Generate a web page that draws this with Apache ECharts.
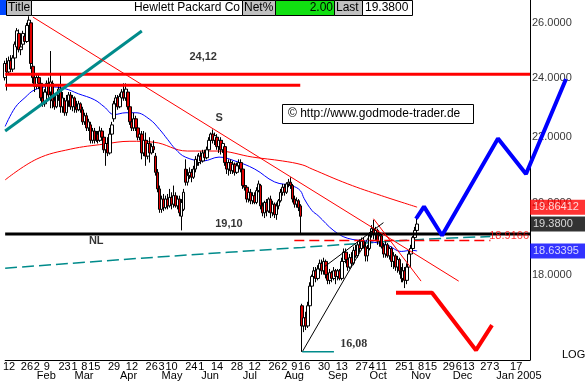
<!DOCTYPE html>
<html><head><meta charset="utf-8">
<script src="https://cdn.jsdelivr.net/npm/echarts@6/dist/echarts.min.js"></script>
<style>html,body{margin:0;padding:0;background:#fff}#chart{width:585px;height:382px}</style>
</head><body><div id="chart"></div>
<script>
// ---------- calendar ----------
const firstDay = '2004-01-08';
const categoryCount = 266;       // visible trading days on the axis
const projectionCount = 293;     // trading days reaching the right edge of the picture
const holidays = ['2004-01-19','2004-02-16','2004-04-09','2004-05-31','2004-06-11','2004-07-05','2004-09-06','2004-11-25','2004-12-24'];
const dayLabels = ['2004-01-12','2004-01-26','2004-02-02','2004-02-09','2004-02-23','2004-03-01','2004-03-08','2004-03-15','2004-03-29','2004-04-12','2004-04-26','2004-05-03','2004-05-10','2004-05-24','2004-06-01','2004-06-14','2004-06-28','2004-07-12','2004-07-26','2004-08-02','2004-08-09','2004-08-16','2004-08-30','2004-09-13','2004-09-27','2004-10-04','2004-10-11','2004-10-25','2004-11-01','2004-11-08','2004-11-15','2004-11-29','2004-12-06','2004-12-13','2004-12-27','2005-01-03','2005-01-17'];
const monthLabels = {'2004-02-02':'Feb','2004-03-01':'Mar','2004-04-01':'Apr','2004-05-03':'May','2004-06-01':'Jun','2004-07-01':'Jul','2004-08-02':'Aug','2004-09-01':'Sep','2004-10-01':'Oct','2004-11-01':'Nov','2004-12-01':'Dec','2005-01-03':'Jan 2005'};
const yTickValues = [26, 24, 22, 20, 18];

// ---------- prices: [open, close, low, high] per trading day from 2004-01-08 ----------
const candles = [
[24.0,24.5,23.9,24.6],[24.5,24.2,23.55,24.7],[24.2,24.6,24.1,24.75],[24.6,24.3,24.2,24.8],[24.3,24.7,24.2,24.8],
[24.7,25.2,24.6,25.3],[25.1,25.7,25.0,25.8],[25.6,25.0,24.9,25.75],[25.0,25.1,24.8,25.3],[25.2,25.6,25.1,25.7],
[25.5,25.3,25.2,25.6],[25.3,25.9,25.25,26.0],[25.9,26.1,25.7,26.25],[26.0,24.5,24.3,26.1],[24.4,24.0,23.8,24.6],
[24.0,23.7,23.5,24.1],[23.7,24.0,23.6,24.1],[24.0,23.8,23.6,24.15],[23.8,23.3,23.2,23.9],[23.3,23.1,23.0,23.5],
[23.1,23.5,23.0,23.6],[23.5,23.8,23.4,23.9],[23.8,23.4,23.3,24.0],[23.5,23.85,22.95,24.95],[23.8,23.2,22.95,23.9],
[23.2,23.0,22.9,23.4],[23.0,23.4,22.95,23.5],[23.4,23.6,23.2,23.7],[23.6,23.0,22.8,24.1],[23.0,23.3,22.8,23.5],
[23.2,22.8,22.7,23.3],[22.8,23.2,22.7,23.4],[23.2,23.4,23.0,23.5],[23.4,23.0,22.9,23.5],[23.0,23.3,22.85,23.4],
[23.3,23.0,22.8,23.35],[23.0,22.9,22.8,23.2],[22.9,23.1,22.85,23.2],[23.1,22.9,22.8,23.15],[22.9,22.5,22.4,23.0],
[22.5,22.7,22.4,22.8],[22.7,22.3,22.2,22.8],[22.3,22.5,22.2,22.6],[22.4,21.9,21.8,22.5],[21.9,22.2,21.8,22.3],
[22.2,21.9,21.8,22.3],[21.9,22.1,21.85,22.2],[22.1,21.9,21.8,22.2],[21.9,22.2,21.85,22.35],[22.2,22.0,21.9,22.3],
[22.0,21.6,21.5,22.1],[21.6,21.8,21.1,22.0],[21.8,21.5,21.4,22.0],[21.5,22.1,21.45,22.3],[22.1,22.4,22.0,22.5],
[22.6,23.1,22.5,23.2],[23.1,23.3,22.95,23.4],[23.3,23.0,22.9,23.4],[23.0,23.35,22.95,23.45],[23.3,23.5,23.2,23.6],
[23.5,23.3,23.2,23.8],[23.3,23.6,23.2,23.8],[23.5,23.0,22.9,23.6],[23.0,22.5,22.4,23.1],[22.5,22.3,22.2,22.7],
[22.3,22.6,22.2,22.8],[22.6,22.3,22.2,22.7],[22.3,22.0,21.9,22.4],[22.0,22.1,21.9,22.2],[22.1,21.5,21.3,22.2],
[21.5,21.9,21.4,22.2],[21.9,21.4,21.1,22.15],[21.4,21.8,21.3,21.9],[21.8,21.5,21.2,22.0],[21.5,21.7,21.45,21.8],
[21.7,21.6,21.5,21.9],[21.4,20.9,20.8,21.5],[20.9,20.4,20.3,21.0],[20.4,19.8,19.7,20.5],[19.8,20.1,19.7,20.2],
[20.1,19.85,19.75,20.25],[19.85,20.1,19.8,20.2],[20.1,19.9,19.8,20.25],[19.9,20.15,19.85,20.4],[20.15,19.95,19.8,20.3],
[19.95,20.2,19.85,20.5],[20.2,19.9,19.85,20.3],[19.9,20.1,19.8,20.2],[20.1,19.7,19.6,20.2],[19.6,20.0,19.2,20.1],
[19.8,20.3,19.75,20.4],[21.0,20.6,20.5,21.3],[20.6,20.8,20.5,21.0],[20.8,20.9,20.7,21.05],[20.9,20.75,20.6,21.0],
[20.75,21.0,20.7,21.1],[21.0,21.3,20.9,21.4],[21.3,21.2,21.1,21.45],[21.2,21.4,21.1,21.5],[21.4,21.25,21.15,21.55],
[21.25,21.5,21.2,21.6],[21.5,21.35,21.25,21.6],[21.35,21.6,21.3,21.7],[21.6,21.9,21.5,22.0],[21.9,22.1,21.8,22.15],
[22.1,21.9,21.8,22.25],[21.9,22.05,21.75,22.15],[22.0,21.7,21.6,22.1],[21.7,21.9,21.5,22.0],[21.9,21.6,21.45,22.0],
[21.6,21.8,21.5,21.9],[21.7,21.2,21.1,21.75],[21.2,21.0,20.85,21.3],[21.0,21.2,20.8,21.3],[21.2,20.95,20.85,21.3],
[20.95,21.15,20.85,21.25],[21.15,20.9,20.8,21.2],[20.9,21.1,20.85,21.2],[21.1,21.2,21.0,21.3],[21.2,21.0,20.9,21.3],
[21.0,20.5,20.4,21.05],[20.5,20.45,20.35,20.6],[20.45,20.1,20.0,20.5],[20.1,20.3,20.0,20.35],[20.3,20.05,19.95,20.4],
[20.05,20.2,19.95,20.3],[20.2,20.0,19.95,20.3],[20.0,20.35,19.95,20.45],[20.35,20.55,20.3,20.65],[20.5,19.9,19.8,20.55],
[19.9,19.7,19.6,20.0],[19.7,20.0,19.55,20.05],[20.0,19.75,19.6,20.1],[19.75,20.1,19.7,20.15],[20.1,19.7,19.55,20.2],
[19.7,19.95,19.6,20.05],[19.95,19.65,19.55,20.0],[19.65,19.9,19.5,20.0],[19.9,20.05,19.8,20.1],[20.05,20.3,20.0,20.4],
[20.3,20.45,20.2,20.55],[20.45,20.3,20.2,20.55],[20.3,20.55,20.25,20.6],[20.55,20.6,20.45,20.7],[20.6,20.5,20.4,20.75],
[20.5,20.1,20.0,20.55],[20.1,19.95,19.85,20.2],[19.95,20.05,19.85,20.15],[20.05,19.85,19.75,20.1],[19.9,19.6,19.1,19.95],
[17.2,16.7,16.08,17.25],[16.7,16.9,16.55,17.0],[16.9,16.7,16.6,17.05],[16.7,17.2,16.65,17.3],[17.2,17.7,17.1,17.8],
[17.7,17.95,17.6,18.0],[17.95,18.1,17.8,18.2],[18.1,17.9,17.8,18.2],[17.9,18.15,17.85,18.25],[18.15,18.3,18.05,18.4],
[18.3,18.1,18.0,18.4],[18.1,18.35,18.0,18.45],[18.35,18.0,17.9,18.4],[18.0,17.85,17.75,18.1],[17.85,18.05,17.75,18.15],
[18.05,17.9,17.8,18.1],[17.9,18.1,17.85,18.2],[18.1,17.95,17.75,18.15],[17.95,18.1,17.85,18.15],[18.1,17.9,17.85,18.15],
[17.9,18.35,17.85,18.45],[18.35,18.6,18.3,18.7],[18.6,18.4,18.3,18.7],[18.4,18.2,18.1,18.5],[18.2,18.45,18.15,18.55],
[18.45,18.3,18.2,18.6],[18.3,18.65,18.25,18.75],[18.65,18.5,18.45,18.8],[18.5,18.8,18.45,18.9],[18.8,18.7,18.6,18.95],
[18.7,18.9,18.65,19.0],[18.9,18.75,18.7,19.0],[18.75,18.5,18.35,18.85],[18.5,18.7,18.35,18.8],[18.7,19.1,18.65,19.15],
[19.1,19.25,19.0,19.35],[19.25,19.1,18.95,19.5],[19.1,19.2,18.9,19.3],[19.2,18.9,18.8,19.25],[18.9,19.05,18.75,19.15],
[19.05,18.75,18.7,19.1],[18.75,18.55,18.45,18.85],[18.55,18.8,18.45,18.9],[18.8,18.5,18.45,18.85],[18.5,18.7,18.4,18.75],
[18.7,18.35,18.2,18.75],[18.35,18.5,18.15,18.6],[18.5,18.2,18.1,18.55],[18.2,18.4,18.05,18.5],[18.4,18.1,18.0,18.45],
[18.1,17.9,17.8,18.2],[17.9,18.1,17.8,18.3],[18.1,17.85,17.65,18.2],[17.85,18.2,17.75,18.3],[18.2,18.55,18.1,18.65],
[18.55,18.7,18.4,18.8],[18.7,19.0,18.65,19.05],[19.0,19.2,18.9,19.3],[19.2,19.38,19.1,19.55]
];

// ---------- indicator curves: [trading-day index, price] ----------
const blueAverage = [[0,22.35],[5,22.97],[10,23.31],[15,23.58],[22,23.68],[30,23.62],[37,23.44],[45,23.24],[50,23.0],[55,22.74],[61,22.8],[66,22.8],[73,22.58],[78,22.25],[82,21.93],[86,21.62],[91,21.37],[100,21.25],[108,21.37],[116,21.25],[126,21.0],[136,20.61],[145,20.49],[149,20.35],[151,20.11],[155,19.76],[158,19.62],[166,19.19],[173,18.98],[183,18.9],[193,18.79],[200,18.62],[205,18.65],[208,18.63395]];
const redAverage = [[0,20.67],[16,21.31],[33,21.62],[50,21.78],[63,21.87],[75,21.84],[92,21.56],[107,21.56],[125,21.37],[140,21.25],[150,21.13],[155,21.0],[173,20.55],[190,20.2],[208,19.86412]];
const tealDashed = [[0,18.17],[75,18.46],[150,18.73],[210,18.95],[245,19.03]];

// ---------- drawn lines ----------
const redTrend = [[14,26.22],[229,17.83]];
const redFan = [[186,19.53],[210,17.83]];
const tealTrend = [[0,22.2],[69,25.69]];
const wedgeLower = [[150,16.08],[186,19.25]];
const wedgeUpper = [[161,18.2],[191,19.42]];
const lowMark = [[150,16.08],[166,16.08]];
const resistanceTop = [[0,24.12],[265,24.12]];
const resistanceLow = [[0,23.73],[149,23.73]];
const neckline = [[0,19.10],[265,19.10]];
const dashedLevel = [[146,18.9166],[245,18.9166]];
const blueProjection = [[208,19.53],[212,19.88],[221,19.06],[249,21.96],[263,20.85],[283,23.95]];
const redProjection = [[198,17.53],[216,17.53],[238,16.12],[246,16.72]];
const markerValues = [19.86412, 19.38, 18.63395];
const annotations = [['24,12',100,24.73],['S',108,22.64],['19,10',113,19.39],['NL',46,18.92]];
const lowAnnotation = ['16,08',176,16.27];

// ---------- build ----------
function buildDates(count) {
  const out = []; const d = new Date(Date.UTC(2004, 0, 8));
  while (out.length < count) {
    const wd = d.getUTCDay(); const s = d.toISOString().slice(0, 10);
    if (wd !== 0 && wd !== 6 && holidays.indexOf(s) < 0) out.push(s);
    d.setUTCDate(d.getUTCDate() + 1);
  }
  return out;
}
const allDates = buildDates(projectionCount);
const dates = allDates.slice(0, categoryCount);
const daySet = new Set(dayLabels);
const lastIdx = categoryCount - 1;
const FONT = 'Liberation Sans, Arial, sans-serif';
const Y_MIN = 15.89, Y_MAX = 26.26;

function line(data, color, width, extra) {
  return Object.assign({ type: 'line', data: data, symbol: 'none', silent: true,
    lineStyle: { color: color, width: width }, z: 3 }, extra || {});
}

const chart = echarts.init(document.getElementById('chart'), null, { renderer: 'canvas' });
const boxColors = ['#ff0000', '#000000', '#0000ff'];

const option = {
  animation: false,
  backgroundColor: '#fff',
  textStyle: { fontFamily: FONT },
  grid: [
    { left: 0, right: 55, top: 16, bottom: 22, containLabel: false },
    { left: 0, right: 1, top: 16, bottom: 22, containLabel: false }
  ],
  xAxis: [
    { type: 'category', gridIndex: 0, data: dates, boundaryGap: false, position: 'bottom',
      axisLine: { show: true, lineStyle: { color: '#000', width: 1 } },
      axisTick: { show: false }, splitLine: { show: false },
      axisLabel: { interval: (i, v) => daySet.has(v), formatter: v => String(Number(v.slice(8, 10))),
        color: '#000', fontSize: 11, margin: 1, fontFamily: FONT } },
    { type: 'category', gridIndex: 0, data: dates, boundaryGap: false, position: 'bottom', offset: 0,
      axisLine: { show: false }, axisTick: { show: false }, splitLine: { show: false },
      axisLabel: { interval: (i, v) => !!monthLabels[v], formatter: v => monthLabels[v] || '',
        align: 'left', color: '#000', fontSize: 11, margin: 10, fontFamily: FONT } },
    { type: 'category', gridIndex: 1, data: allDates, boundaryGap: false, show: false }
  ],
  yAxis: [
    { type: 'log', gridIndex: 0, logBase: 10, min: Y_MIN, max: Y_MAX, position: 'right',
      axisLine: { show: true, lineStyle: { color: '#000', width: 1 } },
      axisTick: { show: false }, axisLabel: { show: false }, splitLine: { show: false } },
    { type: 'log', gridIndex: 1, logBase: 10, min: Y_MIN, max: Y_MAX, show: false, splitLine: { show: false } }
  ],
  series: [
    line(tealDashed, '#008b8b', 1.5, { lineStyle: { color: '#008b8b', width: 1.5, type: [12, 5] }, smooth: 0.3 }),
    line(redAverage, '#ff0000', 1, { smooth: 0.4 }),
    line(blueAverage, '#0000ff', 1, { smooth: 0.4 }),
    { type: 'candlestick', data: candles, barWidth: 3, z: 4,
      itemStyle: { color: '#ffffff', color0: '#e00000', borderColor: '#000', borderColor0: '#000', borderWidth: 1 } },
    line(resistanceTop, '#ff0000', 3, { z: 5 }),
    line(resistanceLow, '#ff0000', 3, { z: 5 }),
    line(neckline, '#000000', 3, { z: 5 }),
    line(dashedLevel, '#ff0000', 1.5, { lineStyle: { color: '#ff0000', width: 1.5, type: [10, 5] }, z: 5 }),
    line(tealTrend, '#008b8b', 3, { z: 5 }),
    line(redTrend, '#ff0000', 1, { z: 5 }),
    line(redFan, '#ff0000', 1, { z: 5 }),
    line(wedgeLower, '#000000', 1, { z: 5 }),
    line(wedgeUpper, '#000000', 1, { z: 5 }),
    line(lowMark, '#008b8b', 1.5, { z: 5 }),
    // y tick labels
    { type: 'scatter', symbolSize: 0, clip: false, silent: true, z: 6,
      data: yTickValues.map(v => [lastIdx, v]),
      label: { show: true, position: 'right', distance: 2, color: '#000', fontSize: 11, fontFamily: FONT,
        formatter: p => p.value[1].toFixed(4) } },
    // value boxes on the axis
    { type: 'scatter', symbolSize: 0, clip: false, silent: true, z: 9,
      data: markerValues.map((v, i) => ({ value: [lastIdx, v],
        label: { backgroundColor: boxColors[i] } })),
      label: { show: true, position: 'right', distance: 0, color: '#fff', fontSize: 11, fontFamily: FONT,
        padding: [2, 3, 1, 3], width: 49, lineHeight: 12, align: 'left',
        formatter: p => String(p.value[1]) === '19.38' ? '19.3800' : String(p.value[1]) } },
    // red level text
    { type: 'scatter', symbolSize: 0, clip: false, silent: true, z: 9,
      data: [[lastIdx, dashedLevel[0][1]]],
      label: { show: true, position: 'left', distance: 1, offset: [0, -5], color: '#ff0000', fontSize: 11, fontFamily: FONT,
        formatter: p => String(p.value[1]) } },
    // annotations
    { type: 'scatter', symbolSize: 0, clip: false, silent: true, z: 9,
      data: annotations.map(a => ({ value: [a[1], a[2]], name: a[0] })),
      label: { show: true, position: 'inside', color: '#000', fontSize: 11, fontWeight: 'bold', fontFamily: FONT,
        formatter: p => p.name } },
    { type: 'scatter', symbolSize: 0, clip: false, silent: true, z: 9,
      data: [{ value: [lowAnnotation[1], lowAnnotation[2]], name: lowAnnotation[0] }],
      label: { show: true, position: 'inside', color: '#000', fontSize: 12, fontWeight: 'bold',
        fontFamily: 'Liberation Serif, Times New Roman, serif', formatter: p => p.name } },
    // projections (drawn on the wide grid so they can run past the price axis)
    line(blueProjection, '#0000ff', 4, { xAxisIndex: 2, yAxisIndex: 1, clip: false, z: 12 }),
    line(redProjection, '#ff0000', 4, { xAxisIndex: 2, yAxisIndex: 1, clip: false, z: 12 })
  ],
  graphic: [
    { type: 'line', shape: { x1: 530.5, y1: 0, x2: 530.5, y2: 16 }, style: { stroke: '#000', lineWidth: 1 } },
    { type: 'rect', shape: { x: 0, y: 0, width: 6, height: 15 }, style: { fill: '#0048ff' } },
    { type: 'rect', shape: { x: 6.5, y: 0.5, width: 25, height: 15 }, style: { fill: '#c0c0c0', stroke: '#000', lineWidth: 1 } },
    { type: 'rect', shape: { x: 31.5, y: 0.5, width: 211, height: 15 }, style: { fill: '#fff', stroke: '#000', lineWidth: 1 } },
    { type: 'rect', shape: { x: 242.5, y: 0.5, width: 33, height: 15 }, style: { fill: '#c0c0c0', stroke: '#000', lineWidth: 1 } },
    { type: 'rect', shape: { x: 275.5, y: 0.5, width: 59, height: 15 }, style: { fill: '#11e011', stroke: '#000', lineWidth: 1 } },
    { type: 'rect', shape: { x: 334.5, y: 0.5, width: 28, height: 15 }, style: { fill: '#c0c0c0', stroke: '#000', lineWidth: 1 } },
    { type: 'rect', shape: { x: 362.5, y: 0.5, width: 50, height: 15 }, style: { fill: '#fff', stroke: '#000', lineWidth: 1 } },
    { type: 'text', x: 8, y: 8, style: { text: 'Title', fill: '#000', font: '12px ' + FONT, textVerticalAlign: 'middle' } },
    { type: 'text', x: 240, y: 8, style: { text: 'Hewlett Packard Co', fill: '#000', font: '12px ' + FONT, textAlign: 'right', textVerticalAlign: 'middle' } },
    { type: 'text', x: 244, y: 8, style: { text: 'Net%', fill: '#000', font: '12px ' + FONT, textVerticalAlign: 'middle' } },
    { type: 'text', x: 333, y: 8, style: { text: '2.00', fill: '#000', font: '12px ' + FONT, textAlign: 'right', textVerticalAlign: 'middle' } },
    { type: 'text', x: 336, y: 8, style: { text: 'Last', fill: '#000', font: '12px ' + FONT, textVerticalAlign: 'middle' } },
    { type: 'text', x: 365, y: 8, style: { text: '19.3800', fill: '#000', font: '12px ' + FONT, textVerticalAlign: 'middle' } },
    { type: 'rect', shape: { x: 282.5, y: 104.5, width: 191, height: 19 }, style: { fill: '#fff', stroke: '#000', lineWidth: 1 }, z: 20 },
    { type: 'text', x: 288, y: 114, z: 21, style: { text: '\u00a9 http://www.godmode-trader.de', fill: '#000', font: '12px ' + FONT, textVerticalAlign: 'middle' } },
    { type: 'text', x: 562, y: 355, style: { text: 'LOG', fill: '#000', font: '11px ' + FONT, textVerticalAlign: 'middle' } }
  ]
};
chart.setOption(option);
</script></body></html>
